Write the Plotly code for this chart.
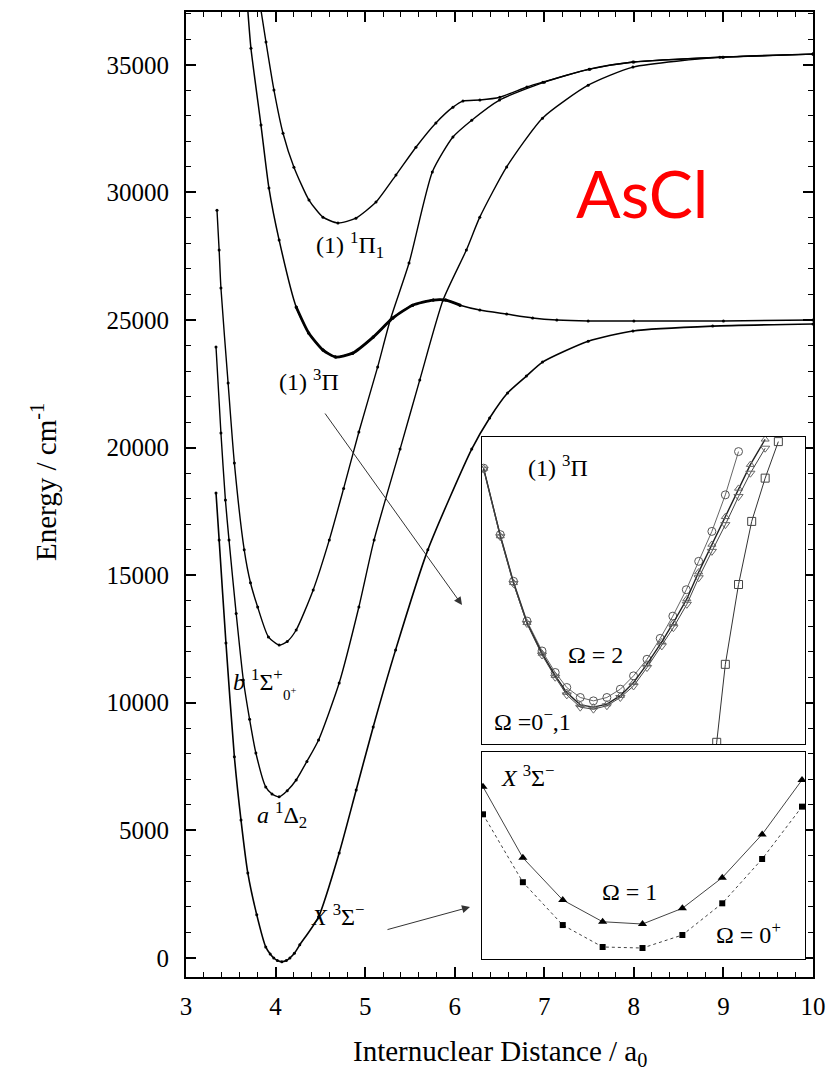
import plotly.graph_objects as go

# ---------------- data ----------------
# Main panel: potential energy curves (r in a0, E in cm-1)
x_r = [3.335, 3.37, 3.446, 3.54, 3.614, 3.69, 3.79, 3.89, 3.94, 3.98, 4.02, 4.07, 4.12, 4.16, 4.21, 4.27,
       4.48, 4.71, 4.90, 5.09, 5.34, 5.70, 6.19, 6.39, 6.59, 6.80, 6.98, 7.49, 7.99, 8.88, 10.0]
x_E = [18220, 16380, 12340, 7880, 5400, 3330, 1685, 430, 150, -5, -105, -150, -105, -5, 180, 510,
       1610, 4110, 6580, 9050, 12070, 15990, 19940, 21160, 22140, 22800, 23350, 24170, 24570, 24760, 24840]

a_r = [3.335, 3.39, 3.44, 3.48, 3.56, 3.64, 3.71, 3.78, 3.89, 3.96, 4.04, 4.13, 4.23, 4.35, 4.48,
       4.71, 4.93, 5.10, 5.39, 5.61, 5.87, 6.13, 6.28, 6.58, 6.98, 7.49, 7.99, 8.99, 10.0]
a_E = [23940, 20570, 17940, 16380, 13500, 10890, 9350, 8030, 6700, 6420, 6310, 6550, 6970, 7700, 8540,
       10770, 13750, 16380, 19940, 22650, 25780, 27740, 29030, 31000, 32910, 34200, 34910, 35300, 35420]

b_r = [3.346, 3.37, 3.39, 3.47, 3.54, 3.65, 3.72, 3.80, 3.92, 4.04, 4.13, 4.23, 4.42, 4.60, 4.76,
       4.93, 5.14, 5.28, 5.49, 5.75, 5.98, 6.19, 6.50, 7.0, 7.5, 8.0, 9.0, 10.0]
b_E = [29300, 27740, 26250, 22530, 19390, 15990, 14700, 13750, 12580, 12260, 12400, 12850, 14420, 16380, 18400,
       20610, 23160, 25000, 27230, 30800, 32170, 32830, 33620, 34320, 34830, 35110, 35300, 35420]

p3_r = [3.69, 3.725, 3.837, 3.926, 4.04, 4.23, 4.37, 4.53, 4.67, 4.86, 5.09, 5.31, 5.53, 5.76, 5.90,
        6.06, 6.28, 6.58, 6.87, 7.14, 7.49, 8.0, 9.0, 10.0]
p3_E = [37140, 35650, 32640, 30170, 28130, 25510, 24490, 23820, 23550, 23700, 24330, 25080, 25580, 25780, 25780,
        25580, 25390, 25230, 25080, 25000, 24960, 24960, 24960, 25000]

p1_r = [3.837, 3.893, 3.982, 4.083, 4.205, 4.373, 4.529, 4.696, 4.897, 5.121, 5.344, 5.567, 5.79, 5.98,
        6.092, 6.281, 6.504, 6.806, 6.984, 7.509, 7.989, 8.96, 10.0]
p1_E = [37140, 35890, 34010, 32320, 30990, 29700, 29030, 28800, 28990, 29620, 30680, 31770, 32720, 33340,
        33580, 33620, 33730, 34130, 34320, 34830, 35110, 35300, 35420]

# Inset 1: (1)3Pi omega components
i1_o2_r = [4.206, 4.268, 4.317, 4.367, 4.423, 4.472, 4.515, 4.565, 4.614, 4.664, 4.714, 4.763, 4.813,
           4.862, 4.909, 4.959, 5.005, 5.054, 5.104, 5.153]
i1_o2_E = [25097, 24664, 24360, 24101, 23906, 23766, 23668, 23603, 23581, 23603, 23657, 23744, 23852,
           23988, 24133, 24305, 24490, 24685, 24923, 25205]
i1_o1_r = [4.206, 4.268, 4.317, 4.367, 4.423, 4.472, 4.515, 4.565, 4.614, 4.664, 4.714, 4.763, 4.813,
           4.868, 4.911, 4.961, 5.005, 5.054, 5.104, 5.153, 5.197, 5.252]
i1_o1_E = [25090, 24650, 24345, 24085, 23880, 23735, 23620, 23540, 23527, 23549, 23603, 23678, 23798,
           23939, 24058, 24210, 24383, 24555, 24729, 24912, 25064, 25227]
i1_o0_E = [25095, 24655, 24350, 24090, 23890, 23745, 23635, 23555, 23540, 23560, 23615, 23700, 23820,
           23965, 24090, 24245, 24420, 24600, 24780, 24965, 25120, 25285]
i1_sq_r = [5.06, 5.072, 5.104, 5.153, 5.202, 5.252, 5.301]
i1_sq_E = [23100, 23311, 23819, 24339, 24750, 25032, 25270]

# Inset 2: X3Sigma- omega components
i2_r = [3.92, 3.96, 4.00, 4.04, 4.08, 4.12, 4.16, 4.20, 4.24]
i2_o1_E = [732, 389, 185, 80, 69, 145, 293, 502, 765]
i2_o0_E = [599, 271, 64, -42, -47, 16, 169, 383, 636]

x_ticks = [3, 4, 5, 6, 7, 8, 9, 10]
y_ticks = [0, 5000, 10000, 15000, 20000, 25000, 30000, 35000]

# ---------------- layout geometry ----------------
W, H = 826, 1073
L, R, T, B = 186, 813, 12, 977


def px(xp):
    return (xp - L) / (R - L)


def py(yp):
    return (B - yp) / (B - T)


SERIF = "Liberation Serif"
fig = go.Figure()

main_marker = dict(color="black", size=3)
traces = [(x_r, x_E, 1.6), (a_r, a_E, 1.4), (b_r, b_E, 1.4), (p3_r, p3_E, 1.5), (p1_r, p1_E, 1.4),
          (p3_r[5:16], p3_E[5:16], 2.8)]
for rr, ee, w in traces:
    fig.add_trace(go.Scatter(x=rr, y=ee, mode="lines+markers",
                             line=dict(color="black", width=w, shape="spline", smoothing=0.6),
                             marker=main_marker, showlegend=False, xaxis="x", yaxis="y"))

# inset 1
fig.add_trace(go.Scatter(x=i1_o2_r, y=i1_o2_E, mode="lines+markers", xaxis="x2", yaxis="y2",
                         line=dict(color="#666", width=1),
                         marker=dict(symbol="circle-open", size=8, color="#555", line=dict(width=1)),
                         showlegend=False))
fig.add_trace(go.Scatter(x=i1_o1_r, y=i1_o0_E, mode="lines+markers", xaxis="x2", yaxis="y2",
                         line=dict(color="#222", width=1.4),
                         marker=dict(symbol="triangle-up-open", size=7, color="#666", line=dict(width=1)),
                         showlegend=False))
fig.add_trace(go.Scatter(x=i1_o1_r, y=i1_o1_E, mode="lines+markers", xaxis="x2", yaxis="y2",
                         line=dict(color="#444", width=1),
                         marker=dict(symbol="triangle-down-open", size=8, color="#666", line=dict(width=1)),
                         showlegend=False))
fig.add_trace(go.Scatter(x=i1_sq_r, y=i1_sq_E, mode="lines+markers", xaxis="x2", yaxis="y2",
                         line=dict(color="#333", width=1),
                         marker=dict(symbol="square-open", size=8, color="#444", line=dict(width=1)),
                         showlegend=False))

# inset 2
fig.add_trace(go.Scatter(x=i2_r, y=i2_o1_E, mode="lines+markers", xaxis="x3", yaxis="y3",
                         line=dict(color="#444", width=1),
                         marker=dict(symbol="triangle-up", size=8, color="black"),
                         showlegend=False))
fig.add_trace(go.Scatter(x=i2_r, y=i2_o0_E, mode="lines+markers", xaxis="x3", yaxis="y3",
                         line=dict(color="#444", width=1, dash="dot"),
                         marker=dict(symbol="square", size=6, color="black"),
                         showlegend=False))

tickfont = dict(family=SERIF, size=25, color="black")
inset_ax = dict(showline=True, mirror=True, linewidth=1, linecolor="black", showticklabels=False,
                ticks="", showgrid=False, zeroline=False, automargin=False)
fig.update_layout(
    width=W, height=H,
    margin=dict(l=L, r=W - R, t=T, b=H - B, autoexpand=False),
    paper_bgcolor="white", plot_bgcolor="white",
    xaxis=dict(domain=[0, 1], range=[3, 10], tickvals=x_ticks, ticks="inside", ticklen=10, tickwidth=1.5,
               minor=dict(ticks="inside", dtick=0.2, ticklen=5, tickwidth=1.2, tickcolor="black"),
               showline=True, linewidth=2, linecolor="black", mirror="ticks", showgrid=False,
               zeroline=False, tickfont=tickfont, tickcolor="black", ticklabelstandoff=6, automargin=False),
    yaxis=dict(domain=[0, 1], range=[-750, 37070], tickvals=y_ticks, tickformat="d", ticks="inside",
               ticklen=10, tickwidth=1.5,
               minor=dict(ticks="inside", dtick=1000, ticklen=5, tickwidth=1.2, tickcolor="black"),
               showline=True, linewidth=2, linecolor="black", mirror="ticks", showgrid=False,
               zeroline=False, tickfont=tickfont, tickcolor="black", ticklabelstandoff=10, automargin=False),
    xaxis2=dict(domain=[px(482), px(805)], range=[4.2, 5.4], anchor="y2", **inset_ax),
    yaxis2=dict(domain=[py(744), py(437)], range=[23300, 25300], anchor="x2", **inset_ax),
    xaxis3=dict(domain=[px(482), px(805)], range=[3.919, 4.243], anchor="y3", **inset_ax),
    yaxis3=dict(domain=[py(959), py(752)], range=[-100, 900], anchor="x3", **inset_ax),
)

ann = []


def text(xp, yp, s, size=24, color="black", family=SERIF, angle=0):
    ann.append(dict(x=px(xp), y=py(yp), xref="paper", yref="paper", text=s, showarrow=False,
                    font=dict(family=family, size=size, color=color), xanchor="center", yanchor="middle",
                    textangle=angle))


text(44, 482, "Energy / cm<sup>-1</sup>", size=29, angle=-90)
text(500, 1053, "Internuclear Distance / a<sub>0</sub>", size=29)
text(642, 192, "AsCl", size=66, color="#FF0000", family="Lato")

text(350, 245, "(1) <sup>1</sup>Π<sub>1</sub>", size=24)
text(309, 380, "(1) <sup>3</sup>Π", size=24)
text(258, 680, "<i>b</i> <sup>1</sup>Σ<sup>+</sup>", size=24)
text(290, 694, "0<sup>+</sup>", size=15)
text(282, 815, "<i>a</i> <sup>1</sup>Δ<sub>2</sub>", size=24)
text(338, 915, "<i>X</i> <sup>3</sup>Σ<sup>−</sup>", size=24)

text(558, 466, "(1) <sup>3</sup>Π", size=24)
text(595, 655, "Ω = 2", size=24)
text(532, 720, "Ω =0<sup>−</sup>,1", size=24)
text(528, 776, "<i>X</i> <sup>3</sup>Σ<sup>−</sup>", size=24)
text(629, 892, "Ω = 1", size=24)
text(748, 933, "Ω = 0<sup>+</sup>", size=24)


def dx(xp):
    return 3 + (xp - L) / (R - L) * 7


def dy(yp):
    return -750 + (B - yp) / (B - T) * (37070 + 750)


ann.append(dict(x=dx(462), y=dy(605), ax=dx(324), ay=dy(412), xref="x", yref="y", axref="x", ayref="y",
                showarrow=True, arrowhead=2, arrowsize=1.6, arrowwidth=1, arrowcolor="#333", text=""))
ann.append(dict(x=dx(470), y=dy(907), ax=dx(386), ay=dy(930), xref="x", yref="y", axref="x", ayref="y",
                showarrow=True, arrowhead=2, arrowsize=1.6, arrowwidth=1, arrowcolor="#333", text=""))

fig.update_layout(annotations=ann)
fig.write_html("out.html", config={"displayModeBar": False},
               post_script="document.body.style.margin='0px';document.body.style.overflow='hidden';")
